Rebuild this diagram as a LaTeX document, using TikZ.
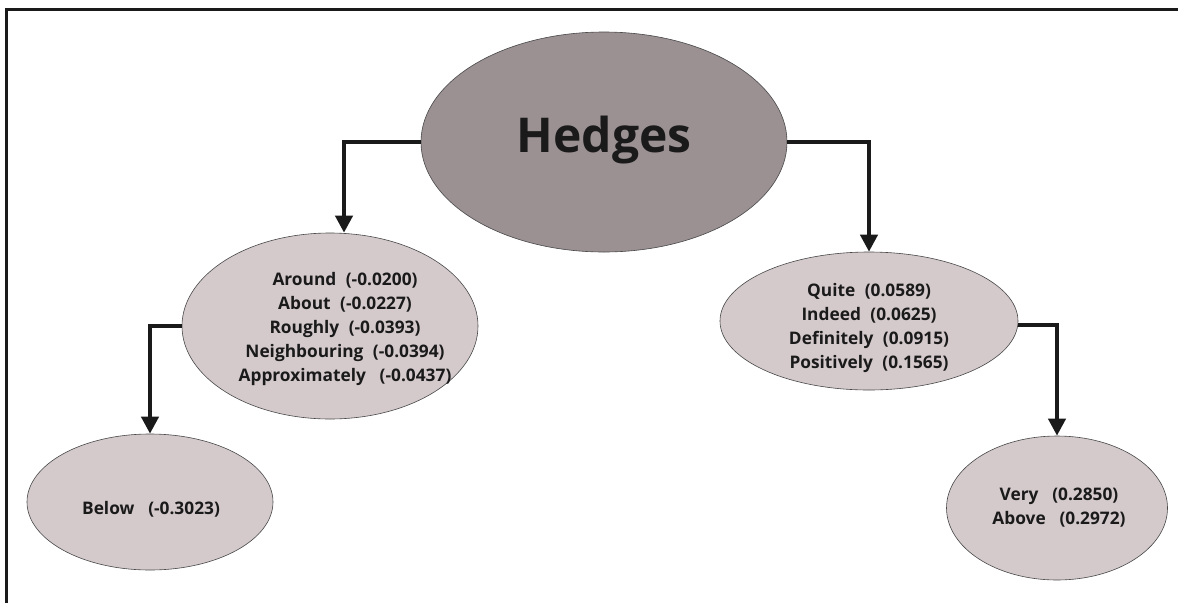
\documentclass[tikz,border=0pt]{standalone}
\usepackage{fontspec}
\setmainfont{Open Sans}
\usetikzlibrary{shapes.geometric,arrows.meta}
\definecolor{rootfill}{HTML}{9B9193}
\definecolor{leaffill}{HTML}{D4CACC}
\definecolor{inkdark}{HTML}{1A1A1A}
\tikzset{
  hedge/.style={ellipse, draw=inkdark!80, line width=0.6pt, inner sep=0pt},
  rootnode/.style={hedge, fill=rootfill},
  leafnode/.style={hedge, fill=leaffill},
  leaftext/.style={align=center, font=\bfseries\fontsize{17.3}{24}\selectfont, text=inkdark, inner sep=0pt},
  link/.style={line width=4pt, draw=inkdark, -{Triangle[width=17pt,length=17pt]}}
}
\newcommand{\gapsep}{\hspace{0.55em}}
\begin{document}
\begin{tikzpicture}[x=1pt,y=-1pt]
\useasboundingbox (0,0) rectangle (1178,603);
% frame edges along the top and left
\draw[line width=3pt, inkdark] (6,603) -- (6,9.5) -- (1178,9.5);

% ellipses
\node[rootnode, minimum width=366pt, minimum height=220pt] (hedges) at (604,142) {};
\node[font=\bfseries\fontsize{48}{58}\selectfont, text=inkdark] (hedgestxt) at (604,140) {Hedges};

\node[leafnode, minimum width=296pt, minimum height=186pt] (lmid) at (330,326) {};
\node[leaftext] (lmidtxt) at (345,329) {Around\gapsep(-0.0200)\\About\gapsep(-0.0227)\\Roughly\gapsep(-0.0393)\\Neighbouring\gapsep(-0.0394)\\Approximately\hspace{0.8em}(-0.0437)};

\node[leafnode, minimum width=298pt, minimum height=138pt] (rmid) at (869,321) {};
\node[leaftext] (rmidtxt) at (869,328) {Quite\gapsep(0.0589)\\Indeed\gapsep(0.0625)\\Definitely\gapsep(0.0915)\\Positively\gapsep(0.1565)};

\node[leafnode, minimum width=246pt, minimum height=136pt] (below) at (150,502) {};
\node[leaftext] (belowtxt) at (151,509) {Below\hspace{0.8em}(-0.3023)};

\node[leafnode, minimum width=221pt, minimum height=144pt] (very) at (1057,508) {};
\node[leaftext] (verytxt) at (1059,508) {Very\hspace{0.8em}(0.2850)\\Above\hspace{0.8em}(0.2972)};

% connectors
\draw[link] (hedges.west) -| ([xshift=14pt]lmid.north);
\draw[link] (hedges.east) -| (rmid.north);
\draw[link] (lmid.west) -| (below.north);
\draw[link] ([yshift=-4pt]rmid.east) -| (very.north);
\end{tikzpicture}
\end{document}
